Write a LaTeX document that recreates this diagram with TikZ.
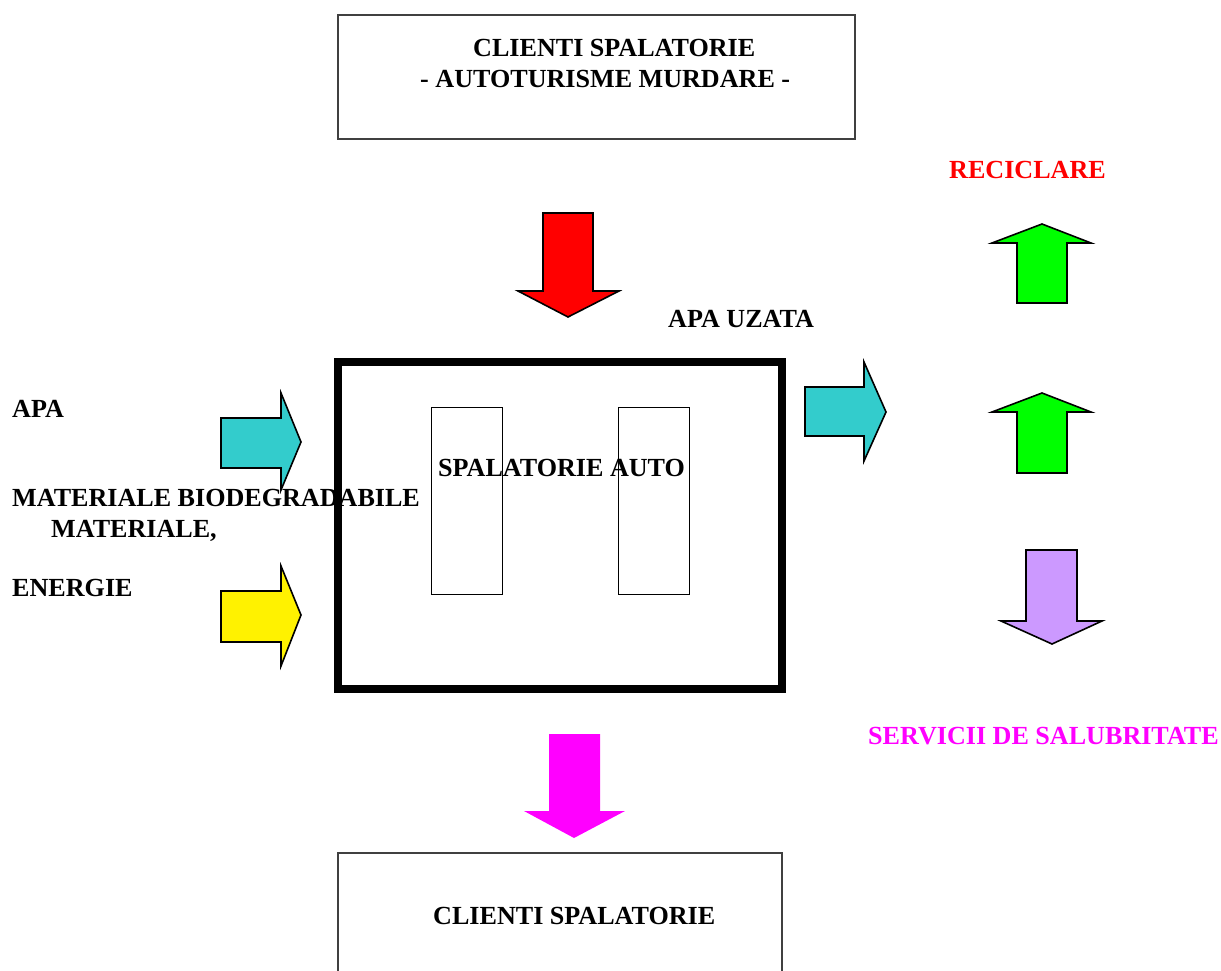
\documentclass[tikz,border=0pt]{standalone}
\usepackage{fontspec}
\setmainfont{Liberation Serif}
\definecolor{cyanA}{HTML}{33CCCC}
\definecolor{greenA}{HTML}{00FF00}
\definecolor{purpleA}{HTML}{CC99FF}
\definecolor{magA}{HTML}{FF00FF}
\definecolor{boxgray}{HTML}{404040}
\begin{document}
\begin{tikzpicture}[x=1pt,y=-1pt,
  lbl/.style={inner sep=0pt,anchor=base west,font=\fontsize{26.1}{31}\selectfont\bfseries},
  blockarrow/.style={draw=black,line width=1.6pt,line join=miter},
  thinbox/.style={draw=boxgray,line width=1.2pt},
  slot/.style={draw=black,line width=1pt}]
\useasboundingbox (0,0) rectangle (1221,971);
\clip (0,0) rectangle (1221,971);
% top box
\draw[thinbox] (338,15) rectangle (855,139);
\node[lbl] (t1) at (473,57) {CLIENTI SPALATORIE};
\node[lbl] (t2) at (420,87.5) {- AUTOTURISME MURDARE -};
% bottom box
\draw[thinbox] (338,853) rectangle (782,990);
\node[lbl] (b1) at (433,924.5) {CLIENTI SPALATORIE};
% main box
\draw[line width=8pt,line join=miter] (338,362) rectangle (782,689);
\draw[slot] (431,407) rectangle (502,594);
\draw[slot] (618,407) rectangle (689,594);
\node[lbl] (main) at (438,476.5) {SPALATORIE AUTO};
% labels
\node[lbl,text=red] (rec) at (949,178.5) {RECICLARE};
\node[lbl] (uz) at (668,327.5) {APA UZATA};
\node[lbl] (apa) at (12,417.5) {APA};
\node[lbl] (mb) at (12,506.5) {MATERIALE BIODEGRADABILE};
\node[lbl] (mat) at (51,537.5) {MATERIALE,};
\node[lbl] (en) at (12,596.5) {ENERGIE};
\node[lbl,text=magA] (serv) at (868,744.5) {SERVICII DE SALUBRITATE};
% arrows
\draw[blockarrow,fill=red] (543,213) -- (593,213) -- (593,291) -- (619,291) -- (568,317) -- (518,291) -- (543,291) -- cycle;
\draw[blockarrow,fill=cyanA] (221,418) -- (281,418) -- (281,393) -- (301,442) -- (281,490) -- (281,468) -- (221,468) -- cycle;
\draw[blockarrow,fill=yellow] (221,591) -- (281,591) -- (281,566) -- (301,615) -- (281,666) -- (281,642) -- (221,642) -- cycle;
\draw[blockarrow,fill=cyanA] (805,387) -- (864,387) -- (864,362) -- (886,412) -- (864,461) -- (864,436) -- (805,436) -- cycle;
\draw[blockarrow,fill=greenA] (1042,224) -- (1091,243) -- (1067,243) -- (1067,303) -- (1017,303) -- (1017,243) -- (992,243) -- cycle;
\draw[blockarrow,fill=greenA] (1042,393) -- (1091,412) -- (1067,412) -- (1067,473) -- (1017,473) -- (1017,412) -- (992,412) -- cycle;
\draw[blockarrow,fill=purpleA] (1026,550) -- (1077,550) -- (1077,621) -- (1102,621) -- (1052,644) -- (1001,621) -- (1026,621) -- cycle;
\fill[magA] (549,734) -- (600,734) -- (600,811) -- (625,811) -- (574,838) -- (524,811) -- (549,811) -- cycle;
\end{tikzpicture}
\end{document}
